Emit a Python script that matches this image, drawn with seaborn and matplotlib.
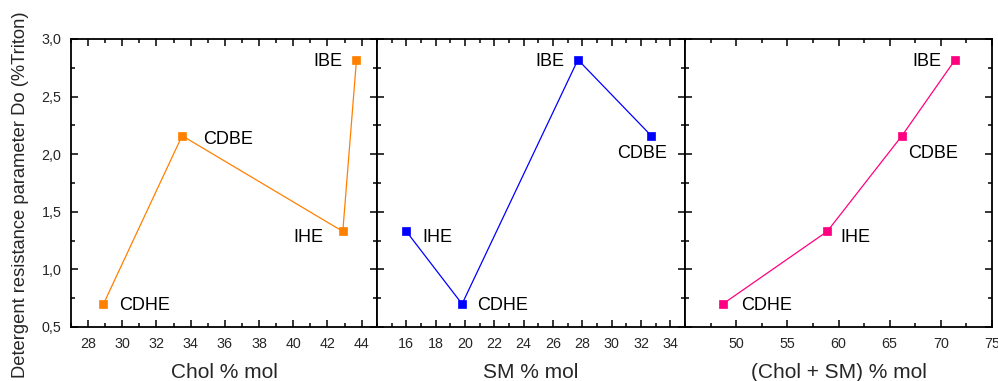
import matplotlib
matplotlib.use("Agg")
import matplotlib.pyplot as plt
from matplotlib.ticker import MultipleLocator, FixedLocator, FuncFormatter
import numpy as np
import pandas as pd
import seaborn as sns

# Membrane samples and their lipid composition
samples = ["CDHE", "CDBE", "IHE", "IBE"]
chol_pct = [28.9, 33.5, 42.9, 43.7]
sm_pct = [19.8, 32.7, 16.0, 27.7]
chol_sm_pct = [48.7, 66.2, 58.9, 71.4]
do_triton = [0.70, 2.16, 1.33, 2.82]

x_titles = ["Chol % mol", "SM % mol", "(Chol + SM) % mol"]
y_title = "Detergent resistance parameter Do (%Triton)"
colors = ["#FF8000", "#0000FF", "#FF0080"]

df = pd.DataFrame({
    "sample": samples,
    "chol": chol_pct,
    "sm": sm_pct,
    "cholsm": chol_sm_pct,
    "do": do_triton,
})

sns.set_theme(style="ticks")
plt.rcParams["font.family"] = ["Liberation Sans", "DejaVu Sans"]

fig = plt.figure(figsize=(9.98, 3.81), dpi=100)

panels = [
    dict(col="chol", xlim=(27, 44.9), majors=np.arange(28, 45, 2), minor=1.0,
         rect=[71 / 998, 54 / 381, 306 / 998, 288 / 381],
         labels={"CDHE": (16, 0, "left"), "CDBE": (21, -2, "left"),
                 "IHE": (-19, -4, "right"), "IBE": (-14, 0, "right")}),
    dict(col="sm", xlim=(14, 35), majors=np.arange(16, 35, 2), minor=1.0,
         rect=[377 / 998, 54 / 381, 308 / 998, 288 / 381],
         labels={"IHE": (16, -4, "left"), "CDHE": (15, 0, "left"),
                 "IBE": (-14, 0, "right"), "CDBE": (-9, -16, "center")}),
    dict(col="cholsm", xlim=(45, 75), majors=np.arange(50, 76, 5), minor=2.5,
         rect=[685 / 998, 54 / 381, 307 / 998, 288 / 381],
         labels={"CDHE": (18, 0, "left"), "IHE": (13, -4, "left"),
                 "CDBE": (6, -16, "left"), "IBE": (-14, 0, "right")}),
]

for i, (p, color, xt) in enumerate(zip(panels, colors, x_titles)):
    ax = fig.add_axes(p["rect"])
    sns.lineplot(data=df, x=p["col"], y="do", ax=ax, color=color, lw=0.9,
                 marker="s", markersize=6.3, markeredgecolor=color,
                 markeredgewidth=0.5, sort=True, legend=False)
    ax.set_xlim(*p["xlim"])
    ax.set_ylim(0.5, 3.0)
    ax.xaxis.set_major_locator(FixedLocator(p["majors"]))
    ax.xaxis.set_minor_locator(MultipleLocator(p["minor"]))
    ax.yaxis.set_major_locator(MultipleLocator(0.5))
    ax.yaxis.set_minor_locator(MultipleLocator(0.25))
    ax.tick_params(which="both", direction="in", top=True, right=True,
                   color="black", width=1.1)
    ax.tick_params(which="major", length=5, labelsize=10.3, pad=7)
    ax.tick_params(which="minor", length=2.8)
    for s in ax.spines.values():
        s.set_linewidth(1.3)
        s.set_color("black")
    ax.set_xlabel(xt, fontsize=15, labelpad=9)
    if i == 0:
        ax.set_ylabel(y_title, fontsize=13.2)
        ax.yaxis.set_label_coords(-0.137, 0.458)
        ax.yaxis.set_major_formatter(
            FuncFormatter(lambda v, _: f"{v:.1f}".replace(".", ",")))
    else:
        ax.set_ylabel("")
        ax.tick_params(labelleft=False)
    for name, xv, yv in zip(df["sample"], df[p["col"]], df["do"]):
        dx, dy, ha = p["labels"][name]
        ax.annotate(name, (xv, yv), xytext=(dx, dy), textcoords="offset pixels",
                    ha=ha, va="center_baseline", fontsize=13, color="black")

fig.savefig("out.png", dpi=100)
